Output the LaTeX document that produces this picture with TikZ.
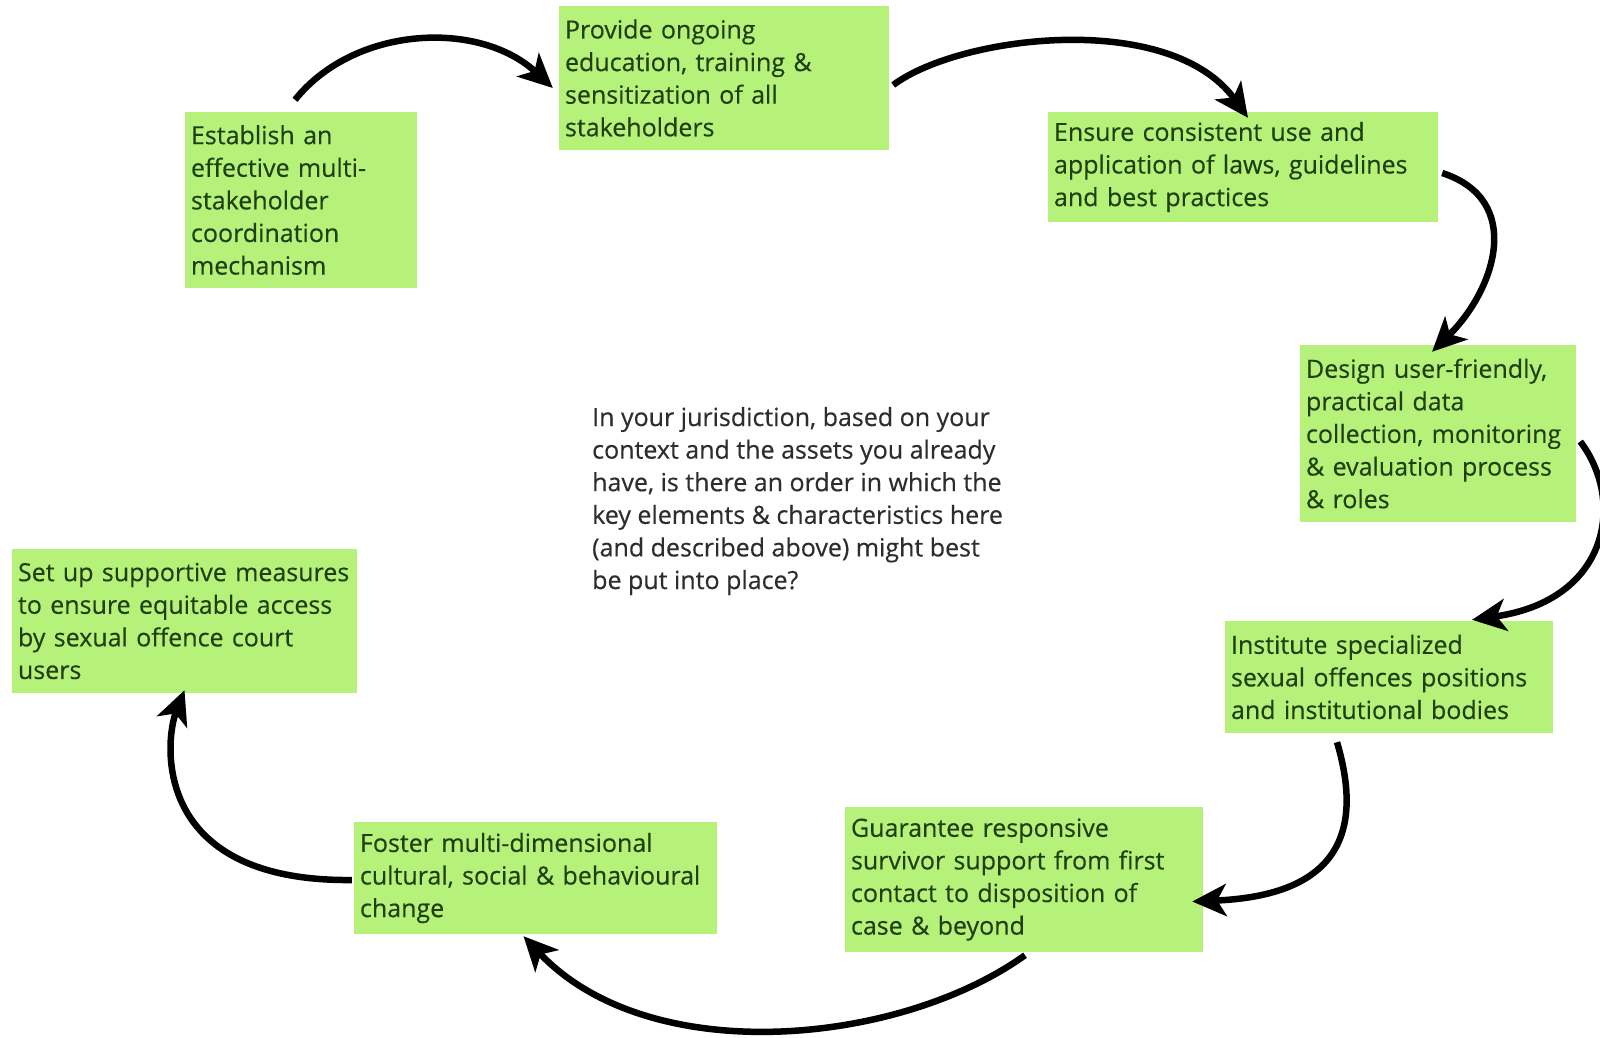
\documentclass[tikz,border=0pt]{standalone}
\usepackage{fontspec}
\setmainfont{Open Sans}[FakeBold=0.35]
\usetikzlibrary{arrows.meta,calc}
\definecolor{boxfill}{RGB}{182,242,122}
\definecolor{boxtext}{RGB}{32,64,18}
\definecolor{midtext}{RGB}{45,45,45}
\begin{document}
\begin{tikzpicture}[x=1pt,y=-1pt,
  font=\fontsize{25}{32.6}\selectfont,
  stage/.style 2 args={fill=boxfill, text=boxtext, align=left, inner xsep=6pt,
    inner ysep=0pt, text width=#1, minimum height=#2, anchor=center},
  arr/.style={line width=6.5pt, draw=black, -{Stealth[length=34pt,width=32pt,inset=9pt]}}]
\useasboundingbox (0,0) rectangle (1600,1037);
\fill[white] (0,0) rectangle (1600,1037);
\clip (0,0) rectangle (1600,1037);

\node[stage={220pt}{176pt}] (b1) at (301,200) {Establish an\\effective multi-\\stakeholder\\coordination\\mechanism};
\node[stage={318pt}{144pt}] (b2) at (724,78) {Provide ongoing\\education, training \&\\sensitization of all\\stakeholders};
\node[stage={378pt}{110pt}] (b3) at (1243,167) {Ensure consistent use and\\application of laws, guidelines\\and best practices};
\node[stage={264pt}{177pt}] (b4) at (1438,433.5) {Design user-friendly,\\practical data\\collection, monitoring\\\& evaluation process\\\& roles};
\node[stage={316pt}{112pt}] (b5) at (1389,677) {Institute specialized\\sexual offences positions\\and institutional bodies};
\node[stage={346pt}{145pt}] (b6) at (1024,879.5) {Guarantee responsive\\survivor support from first\\contact to disposition of\\case \& beyond};
\node[stage={351pt}{112pt}] (b7) at (535.5,878) {Foster multi-dimensional\\cultural, social \& behavioural\\change};
\node[stage={333pt}{144pt}] (b8) at (184.5,621) {Set up supportive measures\\to ensure equitable access\\by sexual offence court\\users};

\node[anchor=west, align=left, inner sep=0pt, text=midtext] (q) at (592,501)
  {In your jurisdiction, based on your\\context and the assets you already\\have, is there an order in which the\\key elements \& characteristics here\\(and described above) might best\\be put into place?};

\draw[arr] ($(b1.north)+(-6,-12)$) .. controls (355,25) and (480,20) .. ($(b2.west)+(-6,10)$);
\draw[arr] ($(b2.east)+(4,7)$) .. controls (960,35) and (1170,10) .. ($(b3.north)+(5,6)$);
\draw[arr] ($(b3.east)+(4,6)$) .. controls (1525,200) and (1495,290) .. ($(b4.north)+(-6,7)$);
\draw[arr] ($(b4.east)+(4,8)$) .. controls (1625,500) and (1610,600) .. ($(b5.north)+(83,-1)$);
\draw[arr] ($(b5.south)+(-52,9)$) .. controls (1360,820) and (1350,895) .. ($(b6.east)+(-11,22)$);
\draw[arr] ($(b6.south)+(1,3)$) .. controls (900,1045) and (650,1070) .. ($(b7.south)+(-12,2)$);
\draw[arr] ($(b7.west)+(-2,2)$) .. controls (150,882) and (165,740) .. ($(b8.south)+(0,-3)$);
\end{tikzpicture}
\end{document}
